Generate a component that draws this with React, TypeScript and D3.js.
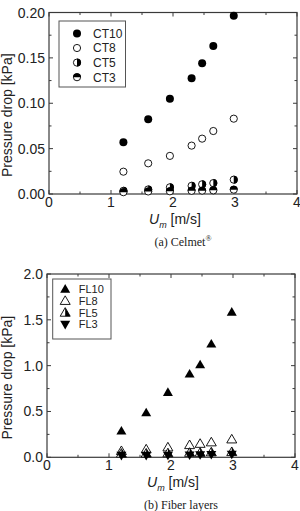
import React from "react";
import * as d3 from "d3";

// flow velocity for both panels [m/s]
const velocity = [1.2, 1.6, 1.95, 2.3, 2.47, 2.65, 2.98];

// (a) Celmet pressure drop [kPa]
const ct10 = [0.057, 0.0825, 0.105, 0.1275, 0.144, 0.163, 0.1965];
const ct8 = [0.0246, 0.0338, 0.042, 0.0533, 0.061, 0.0694, 0.083];
const ct5 = [0.0035, 0.005, 0.0074, 0.009, 0.0107, 0.012, 0.0158];
const ct3 = [0.002, 0.0028, 0.003, 0.0035, 0.0037, 0.004, 0.0048];

// (b) fiber layers pressure drop [kPa]
const fl10 = [0.287, 0.487, 0.709, 0.909, 1.01, 1.236, 1.585];
const fl8 = [0.069, 0.087, 0.109, 0.134, 0.148, 0.164, 0.196];
const fl5 = [0.04, 0.042, 0.045, 0.05, 0.05, 0.055, 0.058];
const fl3 = [0.02, 0.02, 0.022, 0.025, 0.027, 0.03, 0.032];

const xTicks = [0, 1, 2, 3, 4];
const yTicksA = [0, 0.05, 0.1, 0.15, 0.2];
const yTicksB = [0, 0.5, 1.0, 1.5, 2.0];

const sans = "'Liberation Sans', Arial, sans-serif";
const serif = "'Liberation Serif', 'Times New Roman', serif";
const frame = "#3a3a3a";

type Kind = "circle" | "open" | "halfR" | "halfT" | "tri" | "triOpen" | "triHalf" | "triDown";

function Marker({ kind, x, y }: { kind: Kind; x: number; y: number }) {
  const r = 4;
  if (kind === "circle") return <circle cx={x} cy={y} r={r} fill="#000" />;
  if (kind === "open")
    return <circle cx={x} cy={y} r={r - 0.4} fill="#fff" stroke="#000" strokeWidth={0.9} />;
  if (kind === "halfR")
    return (
      <g>
        <circle cx={x} cy={y} r={r - 0.4} fill="#fff" stroke="#000" strokeWidth={0.9} />
        <path d={`M${x},${y - r} A${r},${r} 0 0 1 ${x},${y + r} Z`} fill="#000" />
      </g>
    );
  if (kind === "halfT")
    return (
      <g>
        <circle cx={x} cy={y} r={r - 0.4} fill="#fff" stroke="#000" strokeWidth={0.9} />
        <path d={`M${x - r},${y} A${r},${r} 0 0 1 ${x + r},${y} Z`} fill="#000" />
      </g>
    );
  const s = 5;
  const up = `M${x},${y - s} L${x + s},${y + s * 0.72} L${x - s},${y + s * 0.72} Z`;
  if (kind === "tri") return <path d={up} fill="#000" />;
  if (kind === "triOpen") return <path d={up} fill="#fff" stroke="#000" strokeWidth={0.9} />;
  if (kind === "triHalf")
    return (
      <g>
        <path d={up} fill="#fff" stroke="#000" strokeWidth={0.9} />
        <path d={`M${x},${y - s} L${x + s},${y + s * 0.72} L${x},${y + s * 0.72} Z`} fill="#000" />
      </g>
    );
  return <path d={`M${x},${y + s} L${x + s},${y - s * 0.72} L${x - s},${y - s * 0.72} Z`} fill="#000" />;
}

interface Series {
  name: string;
  kind: Kind;
  values: number[];
}

interface PanelProps {
  left: number;
  right: number;
  top: number;
  bottom: number;
  yMax: number;
  yTicks: number[];
  yFmt: string;
  series: Series[];
  caption: string;
  sup?: string;
  legend: { x: number; y: number; w: number; h: number; row: number; font: number; mx: number; tx: number };
}

function Panel(p: PanelProps) {
  const x = d3.scaleLinear().domain([0, 4]).range([p.left, p.right]);
  const y = d3.scaleLinear().domain([0, p.yMax]).range([p.bottom, p.top]);
  const fmt = d3.format(p.yFmt);
  const xMinor = d3.range(0, 4.01, 0.5);
  const step = p.yTicks[1] - p.yTicks[0];
  const yMinor = d3.range(0, p.yMax + step / 4, step / 2);
  const cx = (p.left + p.right) / 2;
  const cy = (p.top + p.bottom) / 2;
  return (
    <g>
      <rect x={p.left} y={p.top} width={p.right - p.left} height={p.bottom - p.top} fill="none" stroke={frame} strokeWidth={1.2} />
      {xMinor.map((v, i) => {
        const len = i % 2 === 0 ? 4 : 2.5;
        return (
          <g key={"xt" + i} stroke={frame} strokeWidth={1}>
            <line x1={x(v)} x2={x(v)} y1={p.bottom} y2={p.bottom - len} />
            <line x1={x(v)} x2={x(v)} y1={p.top} y2={p.top + len} />
          </g>
        );
      })}
      {yMinor.map((v, i) => {
        const len = i % 2 === 0 ? 4 : 2.5;
        return (
          <g key={"yt" + i} stroke={frame} strokeWidth={1}>
            <line x1={p.left} x2={p.left + len} y1={y(v)} y2={y(v)} />
            <line x1={p.right} x2={p.right - len} y1={y(v)} y2={y(v)} />
          </g>
        );
      })}
      {xTicks.map((v) => (
        <text key={"xl" + v} x={x(v)} y={p.bottom + 13} textAnchor="middle" fontFamily={sans} fontSize={14} fill="#222">
          {v}
        </text>
      ))}
      {p.yTicks.map((v) => (
        <text key={"yl" + v} x={p.left - 4} y={y(v) + 5} textAnchor="end" fontFamily={sans} fontSize={14} fill="#222">
          {fmt(v)}
        </text>
      ))}
      <text
        transform={`translate(${8 + 4},${cy + 12}) rotate(-90)`}
        textAnchor="middle"
        fontFamily={sans}
        fontSize={14}
        fill="#222"
      >
        Pressure drop [kPa]
      </text>
      <text x={cx - 24} y={p.bottom + 30} fontFamily={sans} fontSize={14} fill="#222">
        <tspan fontStyle="italic">U</tspan>
        <tspan fontStyle="italic" fontSize={9} dy={4}>m</tspan>
        <tspan dy={-4}> [m/s]</tspan>
      </text>
      <text x={cx + 10} y={p.bottom + 52} textAnchor="middle" fontFamily={serif} fontSize={12} fill="#222">
        {p.caption}
        {p.sup ? (
          <tspan fontSize={8} dy={-5}>
            {p.sup}
          </tspan>
        ) : null}
      </text>
      {p.series.map((s) =>
        s.values.map((v, i) => <Marker key={s.name + i} kind={s.kind} x={x(velocity[i])} y={y(v)} />)
      )}
      <rect x={p.legend.x} y={p.legend.y} width={p.legend.w} height={p.legend.h} fill="#fff" stroke="#555" strokeWidth={1} />
      {p.series.map((s, i) => {
        const ry = p.legend.y + p.legend.row * (i + 0.85);
        return (
          <g key={"lg" + s.name}>
            <Marker kind={s.kind} x={p.legend.x + p.legend.mx} y={ry} />
            <text x={p.legend.x + p.legend.tx} y={ry + p.legend.font * 0.36} fontFamily={sans} fontSize={p.legend.font} fill="#222">
              {s.name}
            </text>
          </g>
        );
      })}
    </g>
  );
}

export default function App() {
  return (
    <svg width={300} height={511} style={{ display: "block", position: "absolute", left: 0, top: 0 }}>
      <rect width={300} height={511} fill="#fff" />
      <Panel
        left={49}
        right={297}
        top={12.5}
        bottom={194}
        yMax={0.2}
        yTicks={yTicksA}
        yFmt=".2f"
        caption="(a) Celmet"
        sup="®"
        series={[
          { name: "CT10", kind: "circle", values: ct10 },
          { name: "CT8", kind: "open", values: ct8 },
          { name: "CT5", kind: "halfR", values: ct5 },
          { name: "CT3", kind: "halfT", values: ct3 },
        ]}
        legend={{ x: 59, y: 21, w: 66.5, h: 66, row: 14.6, font: 12, mx: 18, tx: 34 }}
      />
      <Panel
        left={47}
        right={295}
        top={274}
        bottom={457.3}
        yMax={2.0}
        yTicks={yTicksB}
        yFmt=".1f"
        caption="(b) Fiber layers"
        series={[
          { name: "FL10", kind: "tri", values: fl10 },
          { name: "FL8", kind: "triOpen", values: fl8 },
          { name: "FL5", kind: "triHalf", values: fl5 },
          { name: "FL3", kind: "triDown", values: fl3 },
        ]}
        legend={{ x: 52.7, y: 279, w: 58.3, h: 60, row: 11.8, font: 11, mx: 12.5, tx: 26 }}
      />
    </svg>
  );
}
